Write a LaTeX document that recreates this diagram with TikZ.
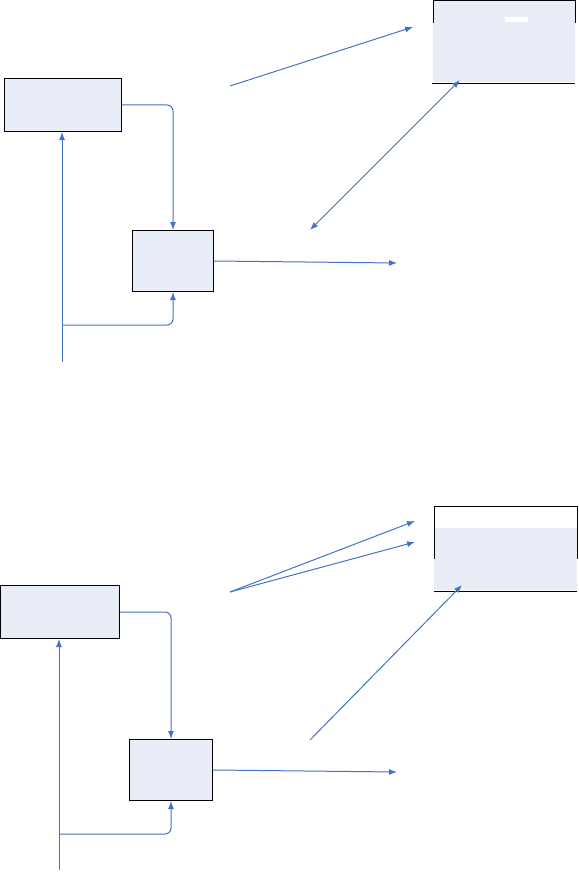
\documentclass[tikz,border=0pt]{standalone}
\usetikzlibrary{arrows.meta,positioning}
\definecolor{wire}{HTML}{4472C4}
\definecolor{pane}{HTML}{E8EDF7}
\tikzset{
  blk/.style={draw=black, fill=pane, line width=1pt, inner sep=0pt, anchor=north west},
  panel/.style={fill=pane, inner sep=0pt, anchor=north west},
  rim/.style={draw=black, line width=1pt},
  wire/.style={draw=wire, line width=1pt, -{Latex[length=8pt,width=6pt]}},
  elbow/.style={wire, rounded corners=6pt},
}

\begin{document}
\begin{tikzpicture}[x=1pt, y=-1pt]
    \useasboundingbox (0,0) rectangle (578,872);
    % upper loop
    \node[blk, minimum width=117pt, minimum height=53pt] (inA) at (4,78) {};
    \node[blk, minimum width=81pt, minimum height=61pt] (ctlA) at (132,230) {};
    \node[panel, minimum width=142pt, minimum height=81pt] (outA) at (433,1) {};
    \draw[rim] (outA.west |- 0,23) |- (outA.north east) -- (outA.east |- 0,23);
    \draw[rim] (432,84) -- (outA.east |- 0,84);
    \fill[white] (505,17) rectangle (528,22);
    \coordinate (srcA) at (62,362);
    \coordinate (tapA) at (62,325);
    \coordinate (endA) at (397,263);
    \coordinate (fromA) at (230,86);
    \coordinate (toA) at (413,27);
    \coordinate (midA) at (310,230);
    \coordinate (pinA) at (460,80);
    \draw[elbow] (inA.east) -| (ctlA.north);
    \draw[wire] (ctlA.east) -- (endA);
    \draw[wire] (srcA) -- (srcA |- inA.south);
    \draw[elbow] (tapA) -| (ctlA.south);
    \draw[wire] (fromA) -- (toA);
    \draw[wire, {Latex[length=8pt,width=6pt]}-{Latex[length=8pt,width=6pt]}] (midA) -- (pinA);
    % lower loop
    \node[blk, minimum width=119pt, minimum height=53pt] (inB) at (0,585) {};
    \node[blk, minimum width=83pt, minimum height=61pt] (ctlB) at (129,739) {};
    \node[panel, minimum width=143pt, minimum height=62pt] (outB) at (434,528) {};
    \draw[rim] (outB.west) |- (outB.east |- 0,506) -- (outB.east);
    \draw[rim] (outB.west |- 0,591) -- (outB.east |- 0,591);
    \coordinate (srcB) at (59,870);
    \coordinate (tapB) at (59,834);
    \coordinate (endB) at (397,772);
    \coordinate (fromB) at (230,592);
    \coordinate (toB) at (415,521);
    \coordinate (toC) at (415,542);
    \coordinate (midB) at (310,740);
    \coordinate (pinB) at (462,585);
    \draw[elbow] (inB.east) -| (ctlB.north);
    \draw[wire] (ctlB.east) -- (endB);
    \draw[wire] (srcB) -- (srcB |- inB.south);
    \draw[elbow] (tapB) -| (ctlB.south);
    \draw[wire] (fromB) -- (toB);
    \draw[wire] (fromB) -- (toC);
    \draw[wire] (midB) -- (pinB);
\end{tikzpicture}
\end{document}
